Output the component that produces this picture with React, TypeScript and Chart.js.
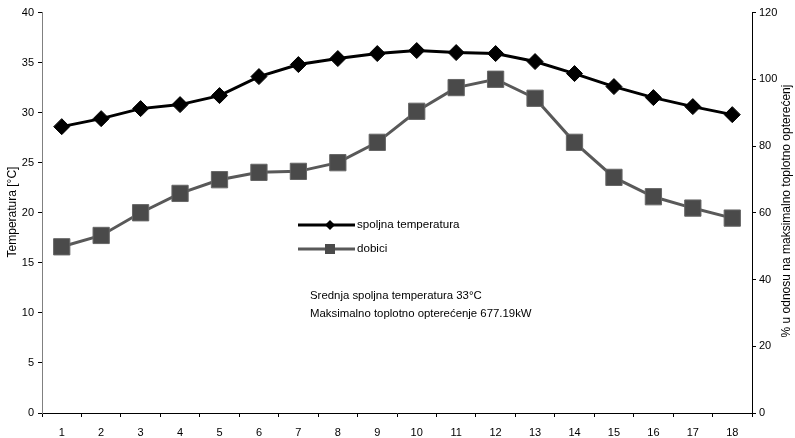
import React, { useEffect, useRef } from "react";
import { Chart, registerables } from "chart.js";

Chart.register(...registerables);

const categories = ["1","2","3","4","5","6","7","8","9","10","11","12","13","14","15","16","17","18"];
const spoljnaTemperatura = [28.6, 29.4, 30.4, 30.8, 31.7, 33.6, 34.8, 35.4, 35.9, 36.2, 36.0, 35.9, 35.1, 33.9, 32.6, 31.5, 30.6, 29.8];
const dobici = [49.8, 53.2, 60.0, 65.8, 69.9, 72.1, 72.4, 75.0, 81.1, 90.4, 97.5, 100.0, 94.3, 81.1, 70.6, 64.8, 61.4, 58.4];
const seriesNames = ["spoljna temperatura", "dobici"];
const leftTitle = "Temperatura [°C]";
const rightTitle = "% u odnosu na maksimalno toplotno opterećenj";
const notes = ["Srednja spoljna temperatura 33°C", "Maksimalno toplotno opterećenje 677.19kW"];

const FONT = "'Liberation Sans', Arial, sans-serif";

const overlayPlugin = {
  id: "overlay",
  afterDraw(chart: any) {
    const ctx = chart.ctx;
    ctx.save();
    // axis titles
    ctx.fillStyle = "#000";
    ctx.font = `12px ${FONT}`;
    ctx.textAlign = "center";
    ctx.textBaseline = "middle";
    ctx.save();
    ctx.translate(13, 212);
    ctx.rotate(-Math.PI / 2);
    ctx.fillText(leftTitle, 0, 0);
    ctx.restore();
    ctx.save();
    ctx.translate(787, 211);
    ctx.rotate(-Math.PI / 2);
    ctx.fillText(rightTitle, 0, 0);
    ctx.restore();

    // legend
    const rows = [
      { y: 225, color: "#000", fill: "#000", type: "diamond" },
      { y: 249, color: "#595959", fill: "#4a4a4a", type: "square" },
    ];
    rows.forEach((r, i) => {
      ctx.strokeStyle = r.color;
      ctx.lineWidth = 3;
      ctx.beginPath();
      ctx.moveTo(298, r.y);
      ctx.lineTo(355, r.y);
      ctx.stroke();
      ctx.fillStyle = r.fill;
      ctx.beginPath();
      if (r.type === "diamond") {
        const s = 5;
        ctx.moveTo(330, r.y - s);
        ctx.lineTo(330 + s, r.y);
        ctx.lineTo(330, r.y + s);
        ctx.lineTo(330 - s, r.y);
        ctx.closePath();
      } else {
        ctx.rect(325, r.y - 5, 10, 10);
      }
      ctx.fill();
      ctx.fillStyle = "#000";
      ctx.font = `11.6px ${FONT}`;
      ctx.textAlign = "left";
      ctx.textBaseline = "middle";
      ctx.fillText(seriesNames[i], 357, r.y);
    });

    // notes
    ctx.font = `11.4px ${FONT}`;
    ctx.textAlign = "left";
    ctx.textBaseline = "middle";
    ctx.fillStyle = "#000";
    ctx.fillText(notes[0], 310, 296);
    ctx.fillText(notes[1], 310, 314);
    ctx.restore();
  },
};

export default function App() {
  const ref = useRef<HTMLCanvasElement>(null);
  useEffect(() => {
    if (!ref.current) return;
    const chart = new Chart(ref.current, {
      type: "line",
      data: {
        labels: categories,
        datasets: [
          {
            label: seriesNames[0],
            data: spoljnaTemperatura,
            yAxisID: "y",
            borderColor: "#000",
            backgroundColor: "#000",
            borderWidth: 3,
            pointStyle: "rectRot",
            pointRadius: 8,
            pointBorderWidth: 1,
            pointBorderColor: "#000",
            pointBackgroundColor: "#000",
            tension: 0,
            order: 1,
          },
          {
            label: seriesNames[1],
            data: dobici,
            yAxisID: "y1",
            borderColor: "#595959",
            backgroundColor: "#4a4a4a",
            borderWidth: 3,
            pointStyle: "rect",
            pointRadius: 11.5,
            pointBorderWidth: 1,
            pointBorderColor: "#666",
            pointBackgroundColor: "#4a4a4a",
            tension: 0,
            order: 2,
          },
        ],
      },
      options: {
        animation: false,
        responsive: false,
        maintainAspectRatio: false,
        devicePixelRatio: 1,
        layout: { padding: { top: 12, left: 0, right: 0, bottom: 0 } },
        plugins: { legend: { display: false }, tooltip: { enabled: false } },
        scales: {
          x: {
            type: "category",
            offset: true,
            grid: {
              offset: true,
              drawOnChartArea: false,
              drawTicks: true,
              tickLength: 4,
              color: "#000",
            },
            border: { color: "#000", width: 1 },
            ticks: {
              color: "#000",
              font: { family: FONT, size: 11 },
              padding: 9,
              maxRotation: 0,
              autoSkip: false,
            },
            afterFit(scale: any) {
              scale.height = 25;
            },
          },
          y: {
            position: "left",
            min: 0,
            max: 40,
            grid: { drawOnChartArea: false, tickLength: 4, color: "#000" },
            border: { color: "#808080", width: 1 },
            ticks: {
              stepSize: 5,
              color: "#000",
              font: { family: FONT, size: 11 },
              padding: 4,
            },
            afterFit(scale: any) {
              scale.width = 42;
            },
          },
          y1: {
            position: "right",
            min: 0,
            max: 120,
            grid: { drawOnChartArea: false, tickLength: 4, color: "#000" },
            border: { color: "#000", width: 1 },
            ticks: {
              stepSize: 20,
              color: "#000",
              font: { family: FONT, size: 11 },
              padding: 3,
            },
            afterFit(scale: any) {
              scale.width = 43;
            },
          },
        },
      },
      plugins: [overlayPlugin],
    });
    return () => chart.destroy();
  }, []);
  return (
    <div style={{ position: "fixed", left: 0, top: 0, width: 795, height: 438, background: "#fff" }}>
      <canvas ref={ref} width={795} height={438} style={{ width: 795, height: 438, display: "block" }} />
    </div>
  );
}
